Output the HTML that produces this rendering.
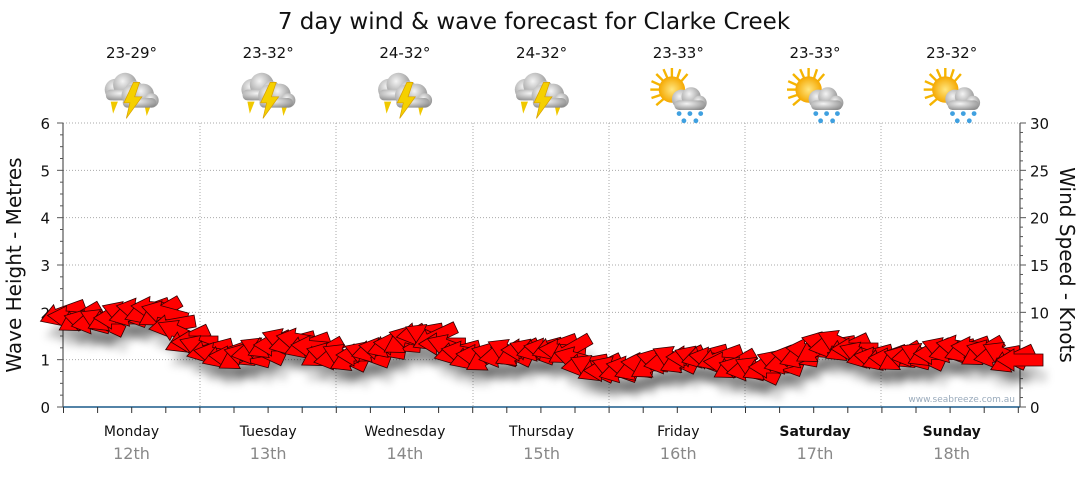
<!DOCTYPE html>
<html><head><meta charset="utf-8"><style>
body{margin:0;background:#fff;width:1080px;height:475px;overflow:hidden;font-family:"DejaVu Sans",sans-serif}
</style></head><body>
<svg id="s" width="1080" height="475" viewBox="0 0 1080 475" xmlns="http://www.w3.org/2000/svg" font-family="DejaVu Sans, sans-serif">
<defs>
<radialGradient id="cg" cx="40%" cy="35%" r="70%"><stop offset="0" stop-color="#f4f4f4"/><stop offset="1" stop-color="#8e8e8e"/></radialGradient>
<radialGradient id="sg" cx="50%" cy="50%" r="50%"><stop offset="0" stop-color="#ffe680"/><stop offset="1" stop-color="#f5a800"/></radialGradient>
<filter id="sh" x="-20%" y="-20%" width="140%" height="160%"><feGaussianBlur stdDeviation="4"/></filter>
<g id="storm">
<polygon points="-14,8 -8,8 -12,18" fill="#f0c800"/>
<polygon points="14,10 20,10 16,20" fill="#f0c800"/>
<circle cx="-10" cy="-2" r="9" fill="url(#cg)"/><circle cx="-2" cy="-6" r="10" fill="url(#cg)"/><circle cx="6" cy="-1" r="8" fill="url(#cg)"/>
<rect x="-18" y="-2" width="30" height="9" rx="4" fill="url(#cg)"/>
<circle cx="4" cy="3" r="9" fill="url(#cg)"/><circle cx="13" cy="2" r="9" fill="url(#cg)"/><circle cx="20" cy="7" r="6" fill="url(#cg)"/>
<rect x="-4" y="5" width="28" height="8" rx="4" fill="url(#cg)"/>
<polygon points="5,-8 10,-8 6,4 12,4 -1,22 2,9 -3,9" fill="#f5d000" stroke="#d8a000" stroke-width="0.6"/>
</g>
<g id="sunrain">
<g stroke="#f5b400" stroke-width="2">
<line x1="-20" y1="-2" x2="-10" y2="-2"/><line x1="-2" y1="-20" x2="-2" y2="-10"/><line x1="-15" y1="-15" x2="-8" y2="-8"/><line x1="11" y1="-15" x2="5" y2="-8"/><line x1="-15" y1="11" x2="-8" y2="5"/><line x1="-19" y1="-9" x2="-10" y2="-5"/><line x1="-9" y1="-19" x2="-5" y2="-10"/><line x1="5" y1="-19" x2="2" y2="-10"/><line x1="-19" y1="5" x2="-10" y2="2"/>
</g>
<circle cx="-2" cy="-2" r="11" fill="url(#sg)"/>
<circle cx="6" cy="6" r="8" fill="url(#cg)"/><circle cx="14" cy="4" r="8" fill="url(#cg)"/><circle cx="21" cy="9" r="6" fill="url(#cg)"/>
<rect x="0" y="7" width="26" height="8" rx="4" fill="url(#cg)"/>
<g fill="#3fa0e0"><circle cx="4" cy="18" r="2"/><circle cx="13" cy="18" r="2"/><circle cx="22" cy="18" r="2"/><circle cx="8" cy="24" r="2"/><circle cx="18" cy="24" r="2"/></g>
</g>
</defs>
<text x="534" y="29" text-anchor="middle" font-size="23" fill="#111">7 day wind &amp; wave forecast for Clarke Creek</text>
<g id="grid"></g>
<g id="arrows"></g>
<text x="21" y="265" font-size="20" fill="#111" text-anchor="middle" transform="rotate(-90 21 265)">Wave Height - Metres</text>
<text x="1060" y="265" font-size="20" fill="#111" text-anchor="middle" transform="rotate(90 1060 265)">Wind Speed - Knots</text>
<text x="1015" y="402" font-size="9" fill="#9ab" text-anchor="end">www.seabreeze.com.au</text>
</svg>
<script>
var s=document.getElementById('grid'),h='';
var L=63,R=1020,T=123,B=407;
function y(m){return B-m*(B-T)/6}
for(var i=1;i<=6;i++)h+='<line x1="'+L+'" x2="'+R+'" y1="'+y(i)+'" y2="'+y(i)+'" stroke="#aaa" stroke-dasharray="1,2"/>';
var dx=[200,336,473,609,745,881];
dx.forEach(function(x){h+='<line x1="'+x+'" x2="'+x+'" y1="'+T+'" y2="'+B+'" stroke="#aaa" stroke-dasharray="1,2"/>'});
h+='<line x1="'+L+'" x2="'+L+'" y1="'+T+'" y2="'+B+'" stroke="#333"/>';
h+='<line x1="'+R+'" x2="'+R+'" y1="'+T+'" y2="'+B+'" stroke="#333"/>';
h+='<line x1="'+L+'" x2="'+R+'" y1="'+B+'" y2="'+B+'" stroke="#1a5a8a" stroke-width="1.5"/>';
for(var i=0;i<=6;i++){h+='<text x="50" y="'+(y(i)+6)+'" font-size="15" text-anchor="end" fill="#111">'+i+'</text>';}
for(var i=0;i<=30;i+=5){h+='<text x="1030" y="'+(y(i/5)+6)+'" font-size="15" fill="#111">'+i+'</text>';}
for(var v=0;v<=6;v+=0.25){var yy=y(v);h+='<line x1="'+(v%1?L-3:L-6)+'" x2="'+L+'" y1="'+yy+'" y2="'+yy+'" stroke="#555"/>';}
for(var v=0;v<=30;v+=1){var yy=B-v*(B-T)/30;h+='<line x1="'+R+'" x2="'+(R+(v%5?3:6))+'" y1="'+yy+'" y2="'+yy+'" stroke="#555"/>';}
for(var x=L+0.5;x<R;x+=34.1){h+='<line x1="'+x+'" x2="'+x+'" y1="'+B+'" y2="'+(B+6)+'" stroke="#333"/>';}
var days=['Monday','Tuesday','Wednesday','Thursday','Friday','Saturday','Sunday'],dates=['12th','13th','14th','15th','16th','17th','18th'],temps=['23-29°','23-32°','24-32°','24-32°','23-33°','23-33°','23-32°'];
for(var d=0;d<7;d++){var cx=L+68.5+d*136.7;
h+='<text x="'+cx+'" y="436" font-size="14" text-anchor="middle" fill="#111"'+(d>=5?' font-weight="bold"':'')+'>'+days[d]+'</text>';
h+='<text x="'+cx+'" y="459" font-size="16" text-anchor="middle" fill="#888">'+dates[d]+'</text>';
h+='<text x="'+cx+'" y="58" font-size="15" text-anchor="middle" fill="#111">'+temps[d]+'</text>';
h+='<use href="#'+(d<4?'storm':'sunrain')+'" transform="translate('+(cx-4)+',92) scale(1.2)"/>';}
s.innerHTML=h;
var base=[[63,313],[80,318],[95,322],[110,318],[125,314],[140,310],[155,308],[165,313],[180,333],[195,342],[210,350],[225,355],[240,356],[255,352],[270,345],[285,341],[300,340],[315,347],[330,355],[345,357],[360,355],[375,350],[390,345],[405,340],[420,333],[435,337],[450,347],[465,353],[480,356],[495,355],[510,352],[525,350],[540,349],[555,347],[570,350],[585,364],[600,368],[615,369],[630,368],[645,364],[660,361],[675,359],[690,357],[705,356],[720,358],[735,365],[750,369],[765,367],[780,363],[795,357],[810,350],[825,344],[840,343],[855,349],[870,356],[885,358],[900,357],[915,355],[930,353],[945,350],[960,347],[975,348],[990,352],[1005,355],[1020,360]];
var pts=[];
base.forEach(function(p,i){pts.push(p);if(i<base.length-1){var q=base[i+1];pts.push([(p[0]+q[0])/2,(p[1]+q[1])/2+2]);}});
var a='',sh='';
var angs=[-20,5,-30,15,-10,25,-25,0,20,-15,10];
pts.forEach(function(p,i){
 var ang=angs[i%angs.length];
 var shape='M-24,0 L-6,-11 L-6,-6 L23,-6 L23,6 L-6,6 L-6,11 Z';
 sh+='<path d="'+shape+'" transform="translate('+(p[0]+4)+','+(p[1]+16)+') rotate('+ang+')" fill="#000" opacity="0.15"/>';
 a+='<path d="'+shape+'" transform="translate('+p[0]+','+p[1]+') rotate('+ang+')" fill="#f00" stroke="#300" stroke-width="0.8"/>';
});
document.getElementById('arrows').innerHTML='<g filter="url(#sh)">'+sh+'</g>'+a;
</script>
</body></html>
